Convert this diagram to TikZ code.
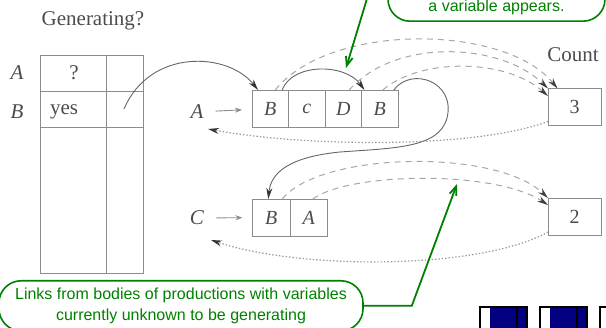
\documentclass[tikz,border=0pt]{standalone}
\usepackage{fontspec}
\setmainfont{Liberation Serif}
\newfontfamily\notefont{Liberation Sans}
\usetikzlibrary{arrows.meta}
\definecolor{notegreen}{RGB}{0,128,0}
\definecolor{navblue}{RGB}{0,0,128}
\tikzset{
  txt/.style={text=black!70, font=\fontsize{21}{24}\selectfont, inner sep=0pt},
  grid/.style={draw=black!45, line width=0.9pt},
  cell/.style={draw=black!45, line width=0.9pt, minimum width=36.5pt, minimum height=37pt,
    inner sep=0pt, outer sep=0pt, text=black!70, font=\fontsize{20}{23}\selectfont\itshape},
  countbox/.style={cell, minimum width=53pt, font=\fontsize{20}{23}\selectfont},
  ptr/.style={draw=black!45, line width=0.9pt, -{Stealth[length=7pt,width=5pt]},
    shorten <=12pt, shorten >=10pt},
  link/.style={draw=black!60, line width=0.9pt, -{Stealth[length=11pt,width=6pt,black!80]}},
  countlink/.style={draw=black!35, line width=1pt, dash pattern=on 6pt off 5pt,
    -{Stealth[length=11pt,width=6pt,black!75]}},
  backlink/.style={draw=black!40, line width=1.2pt, dash pattern=on 1.4pt off 2pt,
    -{Stealth[length=11pt,width=6pt,black!80]}},
  note/.style={draw=notegreen, line width=1.6pt, rounded corners=22pt, text=notegreen,
    font=\notefont\fontsize{16}{21.5}\selectfont, align=center},
  notearrow/.style={draw=notegreen, line width=1.8pt, -{Straight Barb[length=9pt,width=7pt]}}
}
\begin{document}
\begin{tikzpicture}[x=1pt,y=-1pt]
  \useasboundingbox (0,0) rectangle (606,328);
  % generating flags
  \node[txt] (gen) at (93,21) {Generating?};
  \draw[grid] (40,55) rectangle (143,273);
  \draw[grid] (106,55) -- (106,273);
  \foreach \y in {91,127} {
    \draw[grid] (40,\y) -- (143,\y);
  }
  \node[txt] (rowA) at (17,73) {\textit{A}};
  \node[txt] (rowB) at (17,112) {\textit{B}};
  \node[txt] (flagA) at (74,73) {?};
  \node[txt] (flagB) at (64,112) {yes};
  \coordinate (firstB) at (124,109);

  % bodies of the productions
  \node[txt] (headA) at (197,112) {\textit{A}};
  \foreach \t [count=\i] in {B,c,D,B} {
    \node[cell] (a\i) at ({233.75+36.5*\i},108.5) {\t};
  }
  \node[txt] (headC) at (197,218) {\textit{C}};
  \foreach \t [count=\i] in {B,A} {
    \node[cell, minimum width=37.5pt] (c\i) at ({233.75+37.5*\i},217.5) {\t};
  }
  \draw[ptr] (headA) -- (a1);
  \draw[ptr] (headC) -- (c1);

  % counts
  \node[txt] (count) at (573,55) {Count};
  \node[countbox] (cnt3) at (574.5,107) {3};
  \node[countbox] (cnt2) at (574.5,216.5) {2};
  \coordinate (retA) at (208,129);
  \coordinate (retC) at (211,240);

  % occurrences of B
  \draw[link] (firstB) .. controls (150,48) and (228,52) .. ([xshift=6pt]a1.north west);
  \draw[link] ([xshift=12pt]a1.north) .. controls (292,63) and (345,63) .. ([xshift=3pt]a4.north west);
  \draw[link] ([xshift=14pt]a4.north) .. controls (412,66) and (456,82) .. (447,118)
    .. controls (439,148) and (395,148) .. (340,152)
    .. controls (290,157) and (271,172) .. ([xshift=-3pt]c1.north);

  % links to the counts
  \draw[countlink] ([xshift=5pt]a1.north) .. controls (330,22) and (505,24) .. ([xshift=-17pt]cnt3.north);
  \draw[countlink] ([xshift=6pt]a3.north) .. controls (395,38) and (500,42) .. (cnt3.north west);
  \draw[countlink] ([xshift=3pt]a4.north) .. controls (420,58) and (505,58) .. ([yshift=11pt]cnt3.west);
  \draw[countlink] ([xshift=11pt]c1.north) .. controls (320,152) and (495,148) .. (cnt2.north west);
  \draw[countlink] ([xshift=4pt]c2.north) .. controls (350,172) and (495,170) .. ([yshift=-7pt]cnt2.north west);
  \draw[backlink] ([yshift=4pt]cnt3.south west) .. controls (470,150) and (300,146) .. (retA);
  \draw[backlink] ([yshift=3pt]cnt2.south west) .. controls (480,270) and (300,270) .. (retC);

  % notes
  \node[note, text height=45pt, text depth=5pt, inner ysep=5pt, minimum width=217pt, anchor=south]
    (topnote) at (496.5,22) {a variable appears.};
  \coordinate (topfrom) at (369,-8);
  \draw[notearrow] (topfrom) -- (346,68);
  \node[note, minimum width=364pt, minimum height=50pt, anchor=north] (botnote) at (181,280)
    {Links from bodies of productions with variables\\currently unknown to be generating};
  \coordinate (botmark) at (457,184);
  \draw[notearrow] (botnote.east) -- ++(48,0) -- (botmark);

  % navigation buttons
  \foreach \x in {480,540,600} {
    \fill[white] (\x,307) rectangle ({\x+47},335);
    \fill[navblue] ({\x+10},308) rectangle ({\x+46},335);
    \draw[black, line width=2pt] (\x,307) rectangle ({\x+47},335);
    \draw[black, line width=2pt] ({\x+37},307) -- ({\x+37},335);
  }
\end{tikzpicture}
\end{document}
